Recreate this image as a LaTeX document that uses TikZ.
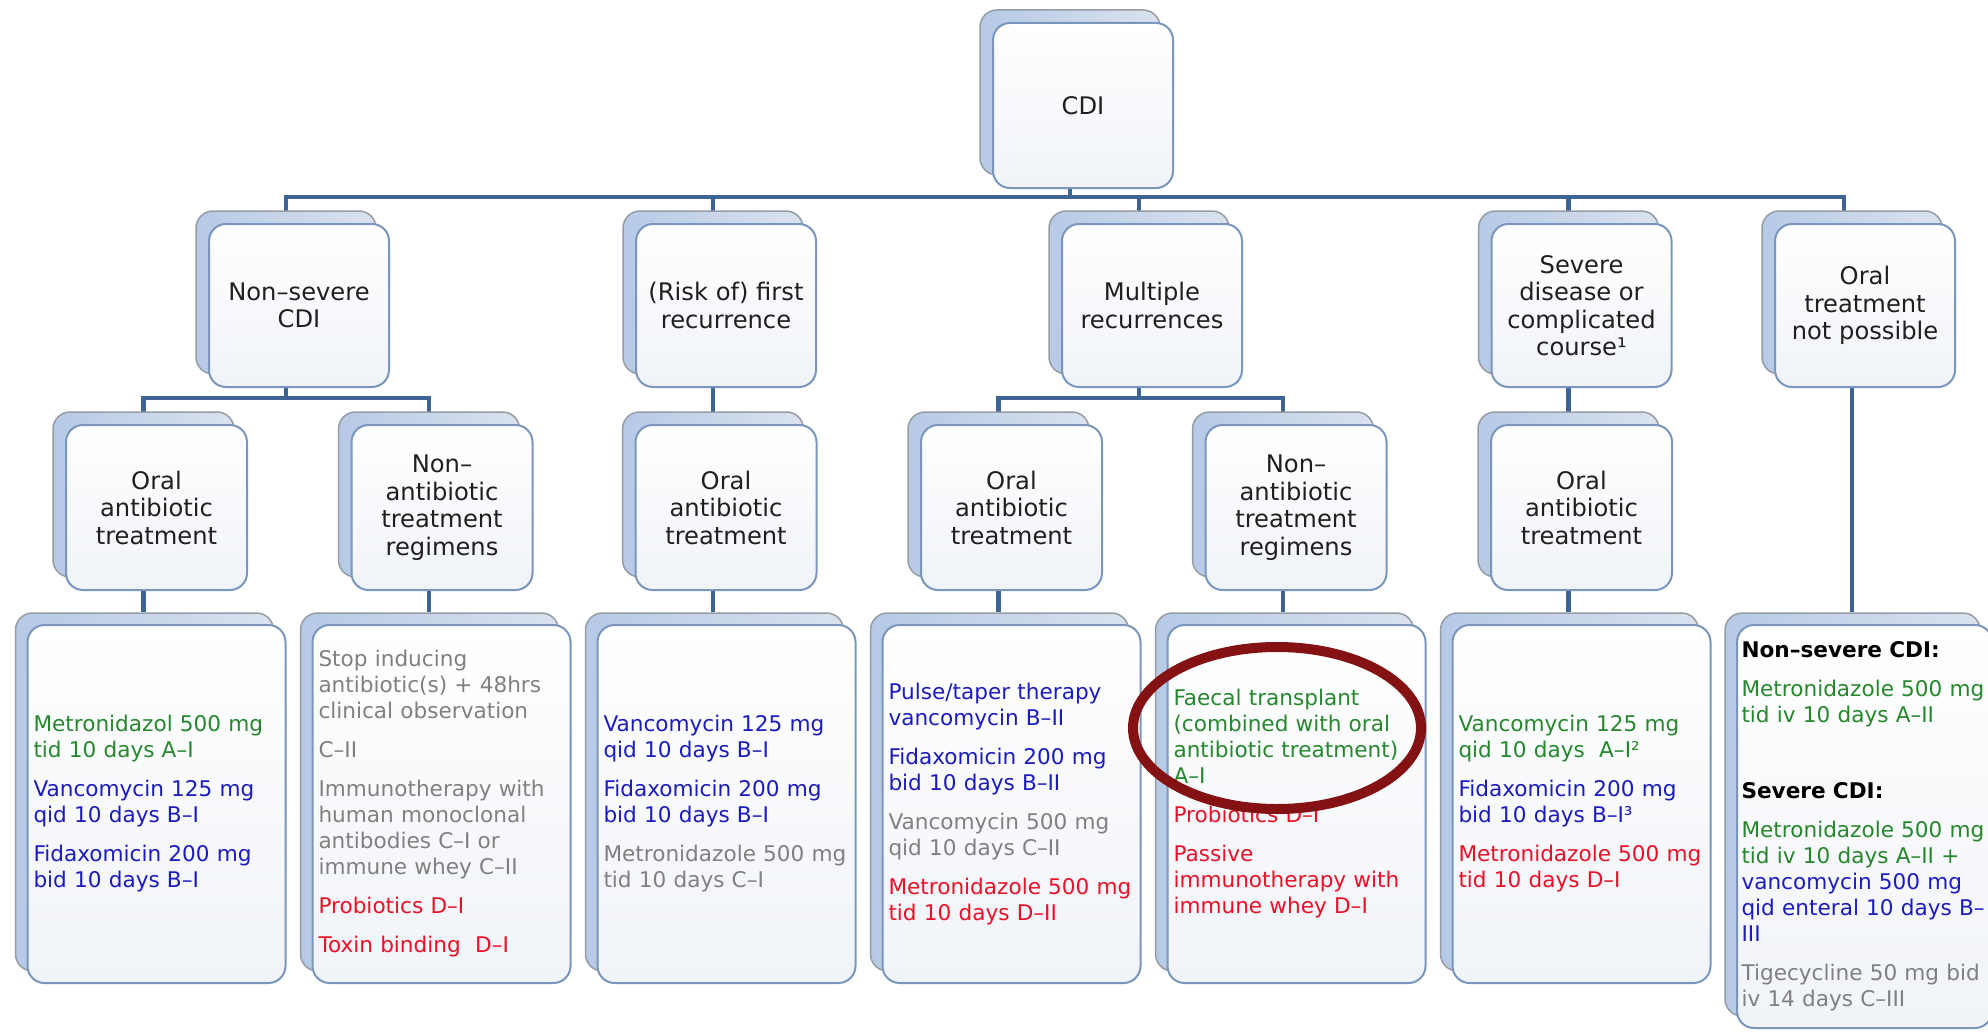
\documentclass[tikz,border=0pt]{standalone}
\usepackage{fontspec}
\setmainfont{DejaVu Sans}
\usetikzlibrary{backgrounds}
\definecolor{conncol}{RGB}{62,100,150}
\definecolor{frontdraw}{RGB}{122,150,188}
\definecolor{frontbot}{RGB}{240,243,248}
\definecolor{backL}{RGB}{182,202,230}
\definecolor{backR}{RGB}{218,226,238}
\definecolor{backdraw}{RGB}{150,156,166}
\definecolor{tgreen}{RGB}{38,135,45}
\definecolor{tblue}{RGB}{28,28,190}
\definecolor{tred}{RGB}{232,18,40}
\definecolor{tgray}{RGB}{128,128,128}
\definecolor{ringcol}{RGB}{132,18,18}
\newcommand\boxpair[8]{%
  \node[backbox, minimum width=#4pt, minimum height=#5pt] (#1b) at (#2-#6,#3-#6) {};
  \node[frontbox, minimum width=#4pt, minimum height=#5pt, #7] (#1) at (#2,#3) {#8};
}
\begin{document}
\begin{tikzpicture}[x=1pt,y=-1pt,
  frontbox/.style={draw=frontdraw, top color=white, bottom color=frontbot, line width=2pt, rounded corners=17pt, inner sep=0pt},
  backbox/.style={draw=backdraw, left color=backL, right color=backR, line width=1.5pt, rounded corners=17pt, inner sep=0pt},
  hdr/.style={font=\fontsize{24.2}{27.5}\selectfont, align=center, text=black!88},
  leaf/.style={font=\fontsize{21.6}{26}\selectfont, text width=246pt, align=left},
  conn/.style={draw=conncol, line width=4.5pt},
  ring/.style={draw=ringcol, line width=10pt}]
\useasboundingbox (0,0) rectangle (1988,1033);
% level 1
\boxpair{cdi}{1083}{105.5}{180}{165}{13}{hdr}{CDI}
% level 2
\boxpair{ns}{299}{305.5}{180}{163}{13}{hdr}{Non–severe\\CDI}
\boxpair{ro}{726}{305.5}{180}{163}{13}{hdr}{(Risk of) first\\recurrence}
\boxpair{mr}{1152}{305.5}{180}{163}{13}{hdr}{Multiple\\recurrences}
\boxpair{sd}{1581.5}{305.5}{180}{163}{13}{hdr}{Severe\\disease or\\complicated\\course¹}
\boxpair{ot}{1865}{305.5}{180}{163}{13}{hdr}{Oral\\treatment\\not possible}
% level 3
\boxpair{oa1}{156.5}{507.5}{181}{165}{13}{hdr}{Oral\\antibiotic\\treatment}
\boxpair{na1}{442}{507.5}{181}{165}{13}{hdr}{Non–\\antibiotic\\treatment\\regimens}
\boxpair{oa2}{726}{507.5}{181}{165}{13}{hdr}{Oral\\antibiotic\\treatment}
\boxpair{oa3}{1011.5}{507.5}{181}{165}{13}{hdr}{Oral\\antibiotic\\treatment}
\boxpair{na2}{1296}{507.5}{181}{165}{13}{hdr}{Non–\\antibiotic\\treatment\\regimens}
\boxpair{oa4}{1581.5}{507.5}{181}{165}{13}{hdr}{Oral\\antibiotic\\treatment}
% level 4
\boxpair{b1}{156.5}{804}{258}{358}{12}{leaf}{\color{tgreen}Metronidazol 500 mg\\tid 10 days A–I\\[13pt]\color{tblue}Vancomycin 125 mg\\qid 10 days B–I\\[13pt]Fidaxomicin 200 mg\\bid 10 days B–I}
\boxpair{b2}{441.5}{804}{258}{358}{12}{leaf}{\color{tgray}Stop inducing\\antibiotic(s) + 48hrs\\clinical observation\\[13pt]C–II\\[13pt]Immunotherapy with\\human monoclonal\\antibodies C–I or\\immune whey C–II\\[13pt]\color{tred}Probiotics D–I\\[13pt]Toxin binding\ \ D–I}
\boxpair{b3}{726.5}{804}{258}{358}{12}{leaf}{\color{tblue}Vancomycin 125 mg\\qid 10 days B–I\\[13pt]Fidaxomicin 200 mg\\bid 10 days B–I\\[13pt]\color{tgray}Metronidazole 500 mg\\tid 10 days C–I}
\boxpair{b4}{1011.5}{804}{258}{358}{12}{leaf}{\color{tblue}Pulse/taper therapy\\vancomycin B–II\\[13pt]Fidaxomicin 200 mg\\bid 10 days B–II\\[13pt]\color{tgray}Vancomycin 500 mg\\qid 10 days C–II\\[13pt]\color{tred}Metronidazole 500 mg\\tid 10 days D–II}
\boxpair{b5}{1296.5}{804}{258}{358}{12}{leaf}{\color{tgreen}Faecal transplant\\(combined with oral\\antibiotic treatment)\\A–I\\[13pt]\color{tred}Probiotics D–I\\[13pt]Passive\\immunotherapy with\\immune whey D–I}
\boxpair{b6}{1581.5}{804}{258}{358}{12}{leaf}{\color{tgreen}Vancomycin 125 mg\\qid 10 days\ \ A–I²\\[13pt]\color{tblue}Fidaxomicin 200 mg\\bid 10 days B–I³\\[13pt]\color{tred}Metronidazole 500 mg\\tid 10 days D–I}
\boxpair{b7}{1864.5}{826.5}{255}{403}{12}{leaf}{\textbf{Non–severe CDI:}\\[13pt]\color{tgreen}Metronidazole 500 mg\\tid iv 10 days A–II\\[50pt]\color{black}\textbf{Severe CDI:}\\[13pt]\color{tgreen}Metronidazole 500 mg\\tid iv 10 days A–II +\\\color{tblue}vancomycin 500 mg\\qid enteral 10 days B–\\III\\[13pt]\color{tgray}Tigecycline 50 mg bid\\iv 14 days C–III}
% highlight ring
\draw[ring] (1277,728) ellipse [x radius=144pt, y radius=81pt];
\begin{pgfonlayer}{background}
\fill[white] (0,0) rectangle (1988,1033);
\coordinate (busy) at (0,197);
\coordinate (suby) at (0,398);
\draw[conn] (cdib.center) -- (cdib.center |- busy) -| (nsb.center);
\draw[conn] (cdib.center) -- (cdib.center |- busy) -| (rob.center);
\draw[conn] (cdib.center) -- (cdib.center |- busy) -| (mrb.center);
\draw[conn] (cdib.center) -- (cdib.center |- busy) -| (sdb.center);
\draw[conn] (cdib.center) -- (cdib.center |- busy) -| ([xshift=-8pt]otb.center);
\draw[conn] (nsb.center) -- (nsb.center |- suby) -| (oa1b.center);
\draw[conn] (nsb.center) -- (nsb.center |- suby) -| (na1b.center);
\draw[conn] (rob.center) -- (oa2b.center);
\draw[conn] (mrb.center) -- (mrb.center |- suby) -| (oa3b.center);
\draw[conn] (mrb.center) -- (mrb.center |- suby) -| (na2b.center);
\draw[conn] (sdb.center) -- (oa4b.center);
\draw[conn] (oa1b.center) -- (oa1b.center |- b1b.north);
\draw[conn] (na1b.center) -- (na1b.center |- b2b.north);
\draw[conn] (oa2b.center) -- (oa2b.center |- b3b.north);
\draw[conn] (oa3b.center) -- (oa3b.center |- b4b.north);
\draw[conn] (na2b.center) -- (na2b.center |- b5b.north);
\draw[conn] (oa4b.center) -- (oa4b.center |- b6b.north);
\draw[conn] (otb.center) -- (otb.center |- b7b.north);
\end{pgfonlayer}
\end{tikzpicture}
\end{document}
